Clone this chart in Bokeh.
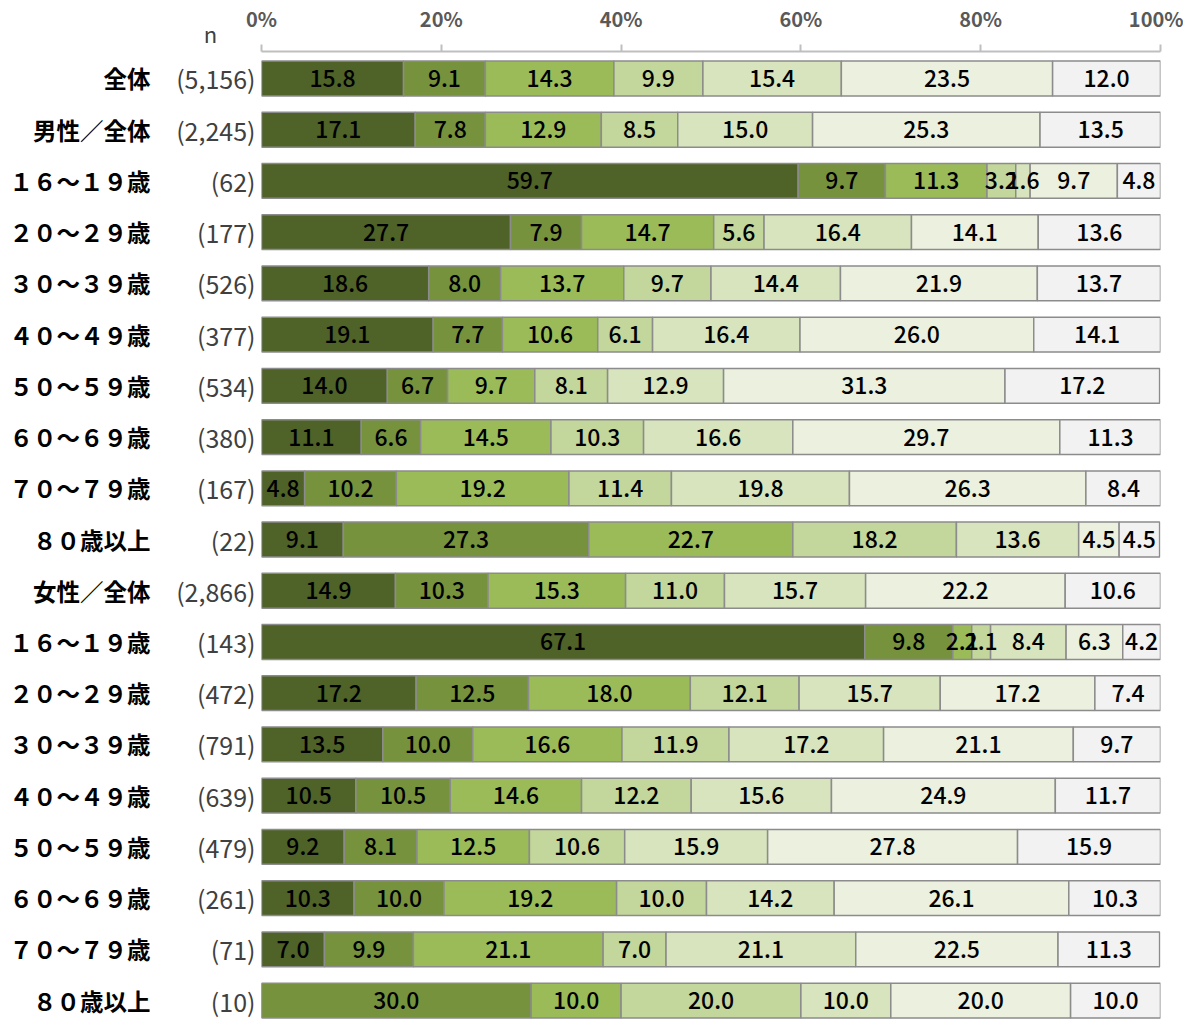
from bokeh.plotting import figure
from bokeh.models import ColumnDataSource, Range1d, LinearAxis, FixedTicker, Label
from bokeh.core.properties import value
from bokeh.embed import file_html
from bokeh.resources import INLINE

categories = ["全体", "男性／全体", "１６～１９歳", "２０～２９歳", "３０～３９歳", "４０～４９歳",
              "５０～５９歳", "６０～６９歳", "７０～７９歳", "８０歳以上", "女性／全体",
              "１６～１９歳", "２０～２９歳", "３０～３９歳", "４０～４９歳", "５０～５９歳",
              "６０～６９歳", "７０～７９歳", "８０歳以上"]
n_values = ["5,156", "2,245", "62", "177", "526", "377", "534", "380", "167", "22",
            "2,866", "143", "472", "791", "639", "479", "261", "71", "10"]
s1 = [15.8, 17.1, 59.7, 27.7, 18.6, 19.1, 14.0, 11.1, 4.8, 9.1, 14.9, 67.1, 17.2, 13.5, 10.5, 9.2, 10.3, 7.0, 0.0]
s2 = [9.1, 7.8, 9.7, 7.9, 8.0, 7.7, 6.7, 6.6, 10.2, 27.3, 10.3, 9.8, 12.5, 10.0, 10.5, 8.1, 10.0, 9.9, 30.0]
s3 = [14.3, 12.9, 11.3, 14.7, 13.7, 10.6, 9.7, 14.5, 19.2, 22.7, 15.3, 2.1, 18.0, 16.6, 14.6, 12.5, 19.2, 21.1, 10.0]
s4 = [9.9, 8.5, 3.2, 5.6, 9.7, 6.1, 8.1, 10.3, 11.4, 18.2, 11.0, 2.1, 12.1, 11.9, 12.2, 10.6, 10.0, 7.0, 20.0]
s5 = [15.4, 15.0, 1.6, 16.4, 14.4, 16.4, 12.9, 16.6, 19.8, 13.6, 15.7, 8.4, 15.7, 17.2, 15.6, 15.9, 14.2, 21.1, 10.0]
s6 = [23.5, 25.3, 9.7, 14.1, 21.9, 26.0, 31.3, 29.7, 26.3, 4.5, 22.2, 6.3, 17.2, 21.1, 24.9, 27.8, 26.1, 22.5, 20.0]
s7 = [12.0, 13.5, 4.8, 13.6, 13.7, 14.1, 17.2, 11.3, 8.4, 4.5, 10.6, 4.2, 7.4, 9.7, 11.7, 15.9, 10.3, 11.3, 10.0]
series = [s1, s2, s3, s4, s5, s6, s7]
colors = ["#4f6228", "#76923c", "#9bbb59", "#c3d69b", "#d7e4bd", "#ebf1de", "#f2f2f2"]
x_ticks = [0, 20, 40, 60, 80, 100]

FONT = "Noto Sans CJK JP"
FONT_MED = "Noto Sans CJK JP Medium"

p = figure(width=1183, height=1019,
           x_range=Range1d(0, 100), y_range=Range1d(18.37, -0.527),
           x_axis_location="above", y_axis_location=None,
           toolbar_location=None, output_backend="svg",
           min_border_left=261, min_border_right=23, min_border_top=50, min_border_bottom=0)
p.outline_line_color = None
p.xgrid.visible = False
p.ygrid.visible = False

rows = list(range(len(categories)))
left = [0.0] * len(rows)
lx, ly, lt = [], [], []
for vals, col in zip(series, colors):
    right = [l + v for l, v in zip(left, vals)]
    src = ColumnDataSource(dict(y=rows, left=left, right=right))
    p.hbar(y="y", left="left", right="right", height=0.68, source=src,
           fill_color=col, line_color="#8c8c8c", line_width=1.5)
    for i, (l, v) in enumerate(zip(left, vals)):
        if v > 0:
            lx.append(l + v / 2)
            ly.append(i)
            lt.append(f"{v:.1f}")
    left = right

lsrc = ColumnDataSource(dict(x=lx, y=ly, t=lt))
p.text(x="x", y="y", text="t", source=lsrc, text_align="center", text_baseline="middle",
       text_font=value(FONT_MED), text_font_size="23px", text_color="black")

# top axis
xa = p.xaxis[0]
xa.ticker = FixedTicker(ticks=x_ticks)
xa.major_label_overrides = {t: f"{t}%" for t in x_ticks}
xa.axis_line_color = "#bfbfbf"
xa.axis_line_width = 2
xa.major_tick_line_color = "#bfbfbf"
xa.major_tick_line_width = 2
xa.major_tick_out = 7
xa.major_tick_in = 0
xa.minor_tick_line_color = None
xa.major_label_standoff = 12
xa.major_label_text_color = "#595959"
xa.major_label_text_font = FONT
xa.major_label_text_font_size = "20px"
xa.major_label_text_font_style = "bold"

# n axis (closest to frame)
n_axis = LinearAxis(ticker=FixedTicker(ticks=rows),
                    major_label_overrides={i: f"({n})" for i, n in enumerate(n_values)})
n_axis.axis_line_color = None
n_axis.major_tick_line_color = None
n_axis.minor_tick_line_color = None
n_axis.major_tick_out = 0
n_axis.major_tick_in = 0
n_axis.major_label_standoff = 6
n_axis.major_label_text_font = FONT
n_axis.major_label_text_font_size = "25px"
n_axis.major_label_text_color = "#404040"
p.add_layout(n_axis, "left")

# category axis
c_axis = LinearAxis(ticker=FixedTicker(ticks=rows),
                    major_label_overrides={i: c for i, c in enumerate(categories)})
c_axis.axis_line_color = None
c_axis.major_tick_line_color = None
c_axis.minor_tick_line_color = None
c_axis.major_tick_out = 0
c_axis.major_tick_in = 0
c_axis.major_label_standoff = 23
c_axis.major_label_text_font = FONT
c_axis.major_label_text_font_size = "23.5px"
c_axis.major_label_text_font_style = "bold"
c_axis.major_label_text_color = "black"
p.add_layout(c_axis, "left")

# "n" header, placed in a side panel so it is not clipped to the frame
p.add_layout(Label(x=-950, y=987, x_units="screen", y_units="screen", text="n",
                   text_align="center", text_baseline="middle",
                   text_font=FONT, text_font_size="22px", text_color="#404040"), "right")

open("out.html", "w").write(file_html(p, INLINE))
